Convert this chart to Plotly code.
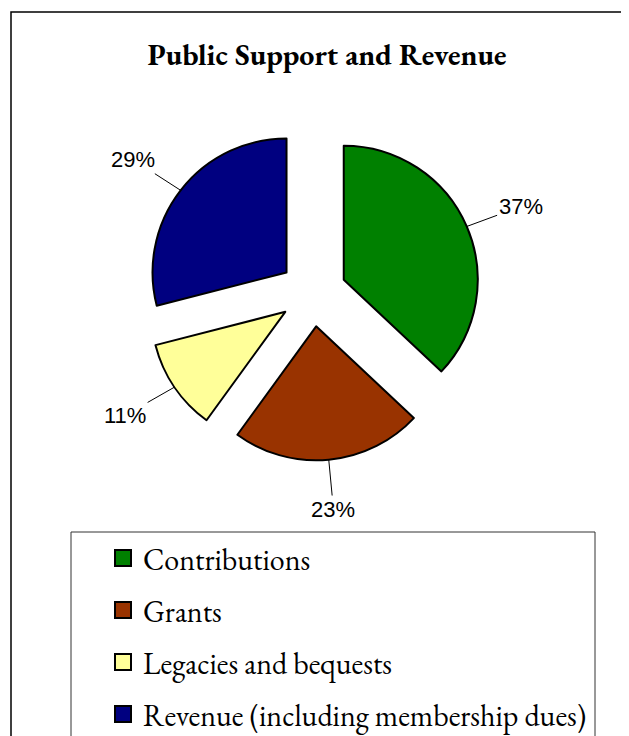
import math
import plotly.graph_objects as go

# ---- data ----
categories = ["Contributions", "Grants", "Legacies and bequests", "Revenue (including membership dues)"]
values = [37, 23, 11, 29]
colors = ["#008000", "#993300", "#FFFF99", "#000080"]

# ---- layout constants (screen pixels; page has an 8px body margin) ----
W, H = 629, 736
OFF = 8


def px(x):
    return (x - OFF) / W


def py(y):
    return 1 - (y - OFF) / H


PIE_CX, PIE_CY = 313, 293   # centre of the (unexploded) pie
PIE_R = 134                 # slice radius
PULL = 0.25                 # explode fraction of radius
LABEL_LEN = 50
SERIF = "Garamond, 'EB Garamond', 'Liberation Serif', 'DejaVu Serif', serif"
SANS = "Arial, 'Liberation Sans', sans-serif"

half = PIE_R * (1 + PULL)
dom_x = [px(PIE_CX - half), px(PIE_CX + half)]
dom_y = [py(PIE_CY + half), py(PIE_CY - half)]

fig = go.Figure()
fig.add_trace(go.Pie(
    labels=categories, values=values, sort=False, direction="clockwise", rotation=0,
    pull=[PULL] * len(values),
    marker=dict(colors=colors, line=dict(color="black", width=2)),
    textinfo="none", showlegend=False, domain=dict(x=dom_x, y=dom_y),
    hovertemplate="%{label}: %{percent}<extra></extra>",
))

# legend entries (one trace per category so the spacing can be controlled)
for i, (cat, col) in enumerate(zip(categories, colors)):
    fig.add_trace(go.Scatter(
        x=[None], y=[None], mode="markers", name=cat, legendgroup=f"g{i}",
        marker=dict(symbol="square", size=16, color=col, line=dict(color="black", width=2)),
    ))

# percentage labels with leader lines, placed from the data angles
total = sum(values)
annotations = []
cum = 0.0
for v in values:
    mid = (cum + v / 2) / total * 2 * math.pi
    cum += v
    dx, dy = math.sin(mid), -math.cos(mid)
    ex = PIE_CX + half * dx
    ey = PIE_CY + half * dy
    shift = 8 * (1 if dx > 0.3 else (-1 if dx < -0.3 else 0))
    annotations.append(dict(
        x=px(ex), y=py(ey), xref="paper", yref="paper",
        text=f"{round(v / total * 100)}%", showarrow=True, arrowhead=0,
        arrowwidth=1, arrowcolor="black", standoff=0,
        ax=LABEL_LEN * dx + shift, ay=LABEL_LEN * dy,
        font=dict(family=SANS, size=22, color="black"),
    ))

fig.update_layout(
    width=W, height=H, margin=dict(l=0, r=0, t=0, b=0),
    paper_bgcolor="white", plot_bgcolor="white",
    xaxis=dict(visible=False), yaxis=dict(visible=False),
    title=dict(text="<b>Public Support and Revenue</b>", x=px(327), xanchor="center",
               y=py(54), yanchor="middle", yref="container",
               font=dict(family=SERIF, size=30, color="black")),
    legend=dict(x=px(103), y=py(532), xanchor="left", yanchor="top",
                font=dict(family=SERIF, size=30, color="black"),
                tracegroupgap=10, bgcolor="rgba(0,0,0,0)", borderwidth=0,
                itemclick=False, itemdoubleclick=False),
    annotations=annotations,
    shapes=[
        dict(type="rect", xref="paper", yref="paper", x0=px(11), y0=py(12),
             x1=1.05, y1=-0.05, line=dict(color="black", width=1.5), layer="below"),
        dict(type="rect", xref="paper", yref="paper", x0=px(71), y0=py(532),
             x1=px(595), y1=-0.05, line=dict(color="#333333", width=1), layer="below"),
    ],
    showlegend=True,
)

fig.write_html("out.html")
